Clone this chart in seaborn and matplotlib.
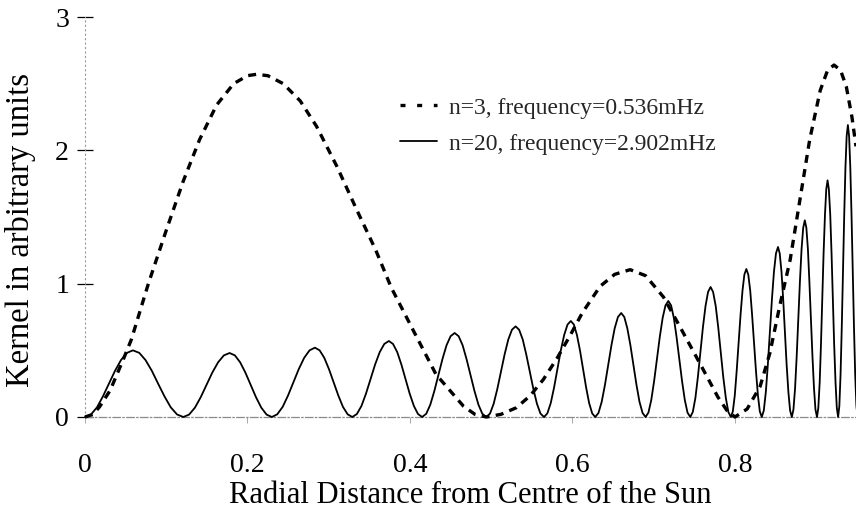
import matplotlib
matplotlib.use("Agg")
import matplotlib.pyplot as plt
import seaborn as sns
import pandas as pd

# ---- data ----
n3_label = "n=3, frequency=0.536mHz"
n20_label = "n=20, frequency=2.902mHz"

n3_x = [0.0, 0.010, 0.018, 0.031, 0.047, 0.057, 0.078, 0.100, 0.121, 0.141, 0.162,
        0.183, 0.200, 0.211, 0.225, 0.244, 0.265, 0.285, 0.310, 0.334, 0.358,
        0.377, 0.404, 0.432, 0.466, 0.480, 0.494, 0.512, 0.531, 0.548, 0.564,
        0.581, 0.597, 0.612, 0.634, 0.652, 0.671, 0.690, 0.712, 0.732, 0.757,
        0.779, 0.790, 0.800, 0.815, 0.831, 0.843, 0.855, 0.868, 0.880, 0.892,
        0.905, 0.914, 0.922, 0.930, 0.937, 0.944, 0.949]
n3_y = [0.0, 0.02, 0.077, 0.20, 0.43, 0.58, 1.00, 1.40, 1.77, 2.08, 2.34,
        2.50, 2.56, 2.57, 2.56, 2.50, 2.37, 2.18, 1.88, 1.56, 1.25,
        0.97, 0.65, 0.32, 0.08, 0.02, 0.0, 0.02, 0.07, 0.16, 0.28,
        0.44, 0.61, 0.78, 0.98, 1.07, 1.105, 1.06, 0.90, 0.68, 0.40,
        0.15, 0.05, 0.0, 0.06, 0.23, 0.48, 0.83, 1.18, 1.63, 2.08,
        2.45, 2.60, 2.64, 2.60, 2.48, 2.25, 2.03]

n20_x = [
    0.0, 0.0074, 0.0148, 0.0221, 0.0295, 0.0369, 0.0443, 0.0516, 0.059,
    0.0668, 0.0745, 0.0823, 0.090, 0.0978, 0.1055, 0.1133, 0.121,
    0.1281, 0.1353, 0.1424, 0.1495, 0.1566, 0.1638, 0.1709, 0.178,
    0.1845, 0.191, 0.1975, 0.204, 0.2105, 0.217, 0.2235, 0.230,
    0.2366, 0.2433, 0.2499, 0.2565, 0.2631, 0.2698, 0.2764, 0.283,
    0.2888, 0.2945, 0.3003, 0.306, 0.3118, 0.3175, 0.3233, 0.329,
    0.3346, 0.3403, 0.3459, 0.3515, 0.3571, 0.3628, 0.3684, 0.374,
    0.3791, 0.3843, 0.3894, 0.3945, 0.3996, 0.4048, 0.4099, 0.415,
    0.420, 0.425, 0.430, 0.435, 0.440, 0.445, 0.450, 0.455,
    0.4599, 0.4648, 0.4696, 0.4745, 0.4794, 0.4843, 0.4891, 0.494,
    0.4985, 0.503, 0.5075, 0.512, 0.5165, 0.521, 0.5255, 0.530,
    0.5344, 0.5388, 0.5431, 0.5475, 0.5519, 0.5563, 0.5606, 0.565,
    0.5691, 0.5733, 0.5774, 0.5815, 0.5856, 0.5898, 0.5939, 0.598,
    0.6018, 0.6055, 0.6093, 0.613, 0.6168, 0.6205, 0.6243, 0.628,
    0.632, 0.636, 0.640, 0.644, 0.648, 0.652, 0.656, 0.660,
    0.6638, 0.6675, 0.6713, 0.675, 0.6788, 0.6825, 0.6863, 0.690,
    0.6935, 0.697, 0.7005, 0.704, 0.7075, 0.711, 0.7145, 0.718,
    0.7214, 0.7248, 0.7281, 0.7315, 0.7349, 0.7383, 0.7416, 0.745,
    0.7481, 0.7513, 0.7544, 0.7575, 0.7606, 0.7638, 0.7669, 0.770,
    0.7731, 0.7763, 0.7794, 0.7825, 0.7856, 0.7888, 0.7919, 0.795,
    0.7974, 0.7998, 0.8021, 0.8045, 0.8069, 0.8093, 0.8116, 0.814,
    0.8164, 0.8188, 0.8211, 0.8235, 0.8259, 0.8283, 0.8306, 0.833,
    0.8355, 0.838, 0.8405, 0.843, 0.8455, 0.848, 0.8505, 0.853,
    0.8551, 0.8573, 0.8594, 0.8615, 0.8636, 0.8658, 0.8679, 0.870,
    0.872, 0.874, 0.876, 0.878, 0.880, 0.882, 0.884, 0.886,
    0.8879, 0.8898, 0.8916, 0.8935, 0.8954, 0.8973, 0.8991, 0.901,
    0.9026, 0.9043, 0.9059, 0.9075, 0.9091, 0.9108, 0.9124, 0.914,
    0.9156, 0.9173, 0.9189, 0.9205, 0.9221, 0.9238, 0.9254, 0.927,
    0.9285, 0.930, 0.9315, 0.933, 0.9345, 0.936, 0.9375, 0.939,
    0.9405, 0.942, 0.9435, 0.945, 0.9465, 0.948, 0.9495, 0.951]
n20_y = [
    0.0, 0.019, 0.073, 0.155, 0.25, 0.346, 0.427, 0.481, 0.50,
    0.481, 0.427, 0.346, 0.25, 0.155, 0.073, 0.019, 0.0,
    0.018, 0.070, 0.148, 0.24, 0.332, 0.410, 0.462, 0.48,
    0.462, 0.410, 0.332, 0.24, 0.148, 0.070, 0.018, 0.0,
    0.020, 0.076, 0.161, 0.26, 0.359, 0.444, 0.500, 0.52,
    0.500, 0.444, 0.359, 0.26, 0.161, 0.076, 0.020, 0.0,
    0.022, 0.083, 0.176, 0.285, 0.394, 0.487, 0.548, 0.57,
    0.548, 0.487, 0.394, 0.285, 0.176, 0.083, 0.022, 0.0,
    0.024, 0.092, 0.195, 0.315, 0.435, 0.538, 0.606, 0.63,
    0.606, 0.538, 0.435, 0.315, 0.195, 0.092, 0.024, 0.0,
    0.026, 0.099, 0.210, 0.34, 0.470, 0.581, 0.654, 0.68,
    0.654, 0.581, 0.470, 0.34, 0.210, 0.099, 0.026, 0.0,
    0.027, 0.105, 0.222, 0.36, 0.498, 0.615, 0.693, 0.72,
    0.693, 0.615, 0.498, 0.36, 0.222, 0.105, 0.027, 0.0,
    0.030, 0.114, 0.241, 0.39, 0.539, 0.666, 0.750, 0.78,
    0.750, 0.666, 0.539, 0.39, 0.241, 0.114, 0.030, 0.0,
    0.033, 0.127, 0.269, 0.435, 0.601, 0.743, 0.837, 0.87,
    0.837, 0.743, 0.601, 0.435, 0.269, 0.127, 0.033, 0.0,
    0.037, 0.142, 0.301, 0.4875, 0.674, 0.833, 0.938, 0.975,
    0.938, 0.833, 0.674, 0.4875, 0.301, 0.142, 0.037, 0.0,
    0.042, 0.162, 0.343, 0.555, 0.767, 0.948, 1.068, 1.11,
    1.068, 0.948, 0.767, 0.555, 0.343, 0.162, 0.042, 0.0,
    0.048, 0.186, 0.394, 0.6375, 0.881, 1.089, 1.227, 1.275,
    1.227, 1.089, 0.881, 0.6375, 0.394, 0.186, 0.048, 0.0,
    0.056, 0.215, 0.456, 0.7375, 1.019, 1.260, 1.419, 1.475,
    1.419, 1.260, 1.019, 0.7375, 0.456, 0.215, 0.056, 0.0,
    0.067, 0.259, 0.548, 0.8875, 1.227, 1.516, 1.708, 1.775,
    1.708, 1.516, 1.227, 0.8875, 0.548, 0.259, 0.067, 0.0,
    0.083, 0.320, 0.677, 1.095, 1.513, 1.870, 2.107, 2.19,
    2.107, 1.870, 1.513, 1.095, 0.677, 0.320, 0.083, 0.0]

x_ticks = [0, 0.2, 0.4, 0.6, 0.8]
x_tick_labels = ["0", "0.2", "0.4", "0.6", "0.8"]
y_ticks = [0, 1, 2, 3]
y_tick_labels = ["0", "1", "2", "3"]
x_label = "Radial Distance from Centre of the Sun"
y_label = "Kernel in arbitrary units"

# ---- style ----
sns.set_theme(style="white")
plt.rcParams["font.family"] = ["Liberation Serif", "DejaVu Serif"]

fig = plt.figure(figsize=(8.56, 5.13), dpi=100)
ax = fig.add_axes([85 / 856, 96 / 513, 771 / 856, 400 / 513])

df3 = pd.DataFrame({"x": n3_x, "y": n3_y})
df20 = pd.DataFrame({"x": n20_x, "y": n20_y})

sns.lineplot(data=df20, x="x", y="y", ax=ax, color="black", linewidth=1.3,
             label=n20_label, sort=False, estimator=None, clip_on=False, zorder=3)
sns.lineplot(data=df3, x="x", y="y", ax=ax, color="black", linewidth=2.4,
             linestyle=(0, (2.4, 1.9)), label=n3_label, sort=False,
             estimator=None, clip_on=False, zorder=4)

ax.set_xlim(0, 0.949)
ax.set_ylim(0, 3)
ax.set_xticks(x_ticks)
ax.set_xticklabels(x_tick_labels)
ax.set_yticks(y_ticks)
ax.set_yticklabels(y_tick_labels)

for side in ["top", "right"]:
    ax.spines[side].set_visible(False)
ax.spines["left"].set_color("#9a9a9a")
ax.spines["left"].set_linewidth(0.8)
ax.spines["left"].set_linestyle((0, (1, 3)))
ax.spines["bottom"].set_color("#8a8a8a")
ax.spines["bottom"].set_linewidth(0.9)
ax.spines["bottom"].set_linestyle((0, (6, 2, 1, 2)))

ax.tick_params(axis="y", direction="inout", length=11, width=0.9, colors="black",
               labelsize=20, pad=6, left=True)
ax.tick_params(axis="x", direction="out", length=4, width=0.6, color="#9a9a9a",
               labelcolor="black", labelsize=20, pad=22, bottom=True)

ax.set_xlabel(x_label, fontsize=22, labelpad=2, color="black")
ax.set_ylabel(y_label, fontsize=23.5, color="black")
ax.yaxis.set_label_coords(-0.064, 0.4675)

handles, labels = ax.get_legend_handles_labels()
order = [labels.index(n3_label), labels.index(n20_label)]
leg = ax.legend([handles[i] for i in order], [labels[i] for i in order],
                loc="upper left", bbox_to_anchor=(0.408, 0.80), frameon=False,
                fontsize=17, handlelength=1.6, handletextpad=0.5,
                labelspacing=0.62, borderpad=0, borderaxespad=0)
leg.legend_handles[0].set_linestyle((0, (1.5, 3.5)))
leg.legend_handles[0].set_linewidth(2.4)

fig.savefig("out.png", dpi=100)
